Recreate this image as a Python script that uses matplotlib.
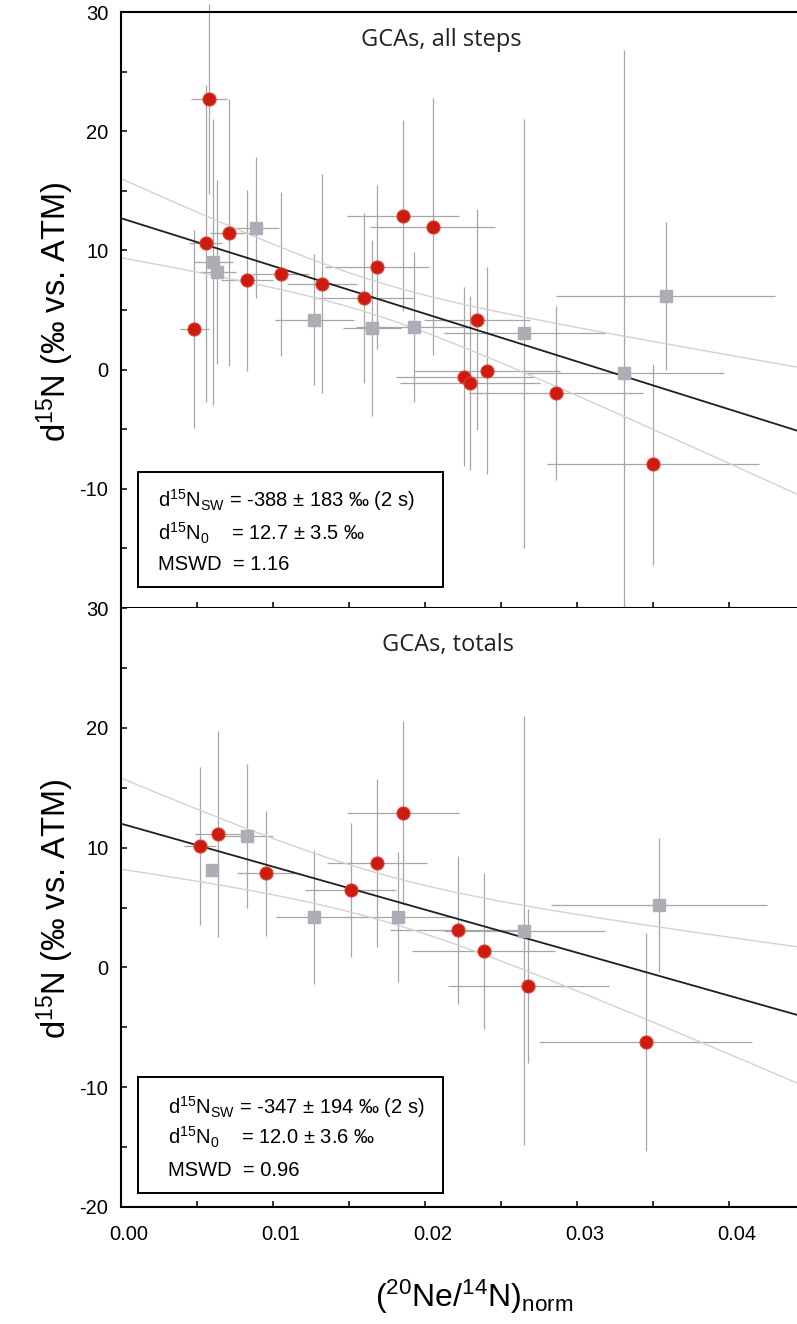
import numpy as np
import matplotlib
matplotlib.use("Agg")
import matplotlib.pyplot as plt
import matplotlib.transforms as mtransforms
from matplotlib.ticker import MultipleLocator, FuncFormatter
from matplotlib.patches import Rectangle

plt.rcParams["font.family"] = ["Liberation Sans", "DejaVu Sans"]
plt.rcParams["mathtext.fontset"] = "custom"
plt.rcParams["mathtext.rm"] = "Liberation Sans"
plt.rcParams["mathtext.it"] = "Liberation Sans:italic"
plt.rcParams["mathtext.default"] = "regular"
plt.rcParams["axes.unicode_minus"] = False

# ---------------- GCAs, all steps ----------------
steps_red_x = [0.00579, 0.00557, 0.00713, 0.00482, 0.00831, 0.01050, 0.01320, 0.01599,
               0.01684, 0.01855, 0.02050, 0.02342, 0.02259, 0.02298, 0.02410, 0.02862, 0.03500]
steps_red_y = [22.7, 10.6, 11.5, 3.4, 7.5, 8.0, 7.2, 6.0,
               8.6, 12.9, 12.0, 4.2, -0.6, -1.1, -0.1, -1.95, -7.96]
steps_red_xerr = [0.0012, 0.0011, 0.0013, 0.00095, 0.0017, 0.0019, 0.0023, 0.0032,
                  0.0034, 0.0037, 0.0041, 0.0035, 0.0045, 0.0046, 0.0048, 0.0057, 0.0070]
steps_red_yerr = [8.0, 13.3, 11.2, 8.3, 7.6, 6.9, 9.2, 7.1,
                  6.9, 8.0, 10.8, 9.3, 7.5, 7.3, 8.7, 7.3, 8.4]

steps_grey_x = [0.00607, 0.00634, 0.00888, 0.0127, 0.01651, 0.01928, 0.02653, 0.03583, 0.0331]
steps_grey_y = [9.05, 8.2, 11.9, 4.2, 3.5, 3.55, 3.05, 6.15, -0.3]
steps_grey_xerr = [0.0013, 0.0012, 0.0015, 0.0026, 0.0019, 0.0038, 0.0053, 0.0072, 0.0066]
steps_grey_yerr_lo = [12.0, 7.7, 5.9, 5.5, 7.4, 6.3, 18.0, 6.2, 20.3]
steps_grey_yerr_hi = [12.0, 7.7, 5.9, 5.5, 7.4, 6.3, 18.0, 6.2, 27.1]

# fit: d15N_SW, d15N_0 (with 2 s errors), MSWD
steps_fit = dict(d_sw=-388, d_sw_err=183, d_0=12.7, d_0_err=3.5, mswd="1.16")
steps_band_center = 0.0164
steps_band_min = 1.41

# ---------------- GCAs, totals ----------------
tot_red_x = [0.0052, 0.0064, 0.00954, 0.01511, 0.01684, 0.01855, 0.02219, 0.02386, 0.0268, 0.03452]
tot_red_y = [10.14, 11.1, 7.86, 6.44, 8.7, 12.9, 3.12, 1.34, -1.56, -6.2]
tot_red_xerr = [0.00105, 0.0015, 0.0019, 0.0030, 0.0033, 0.0037, 0.0045, 0.0047, 0.0053, 0.0070]
tot_red_yerr = [6.6, 8.6, 5.2, 5.6, 7.0, 7.7, 6.2, 6.5, 6.4, 9.1]

tot_grey_x = [0.0060, 0.00827, 0.0127, 0.01822, 0.02653, 0.03542]
tot_grey_y = [8.1, 11.0, 4.2, 4.2, 3.05, 5.2]
tot_grey_xerr = [0.0, 0.0017, 0.0025, 0.0035, 0.0053, 0.0071]
tot_grey_yerr_lo = [0.0, 6.0, 5.6, 5.4, 17.9, 5.6]
tot_grey_yerr_hi = [0.0, 6.0, 5.6, 5.4, 17.9, 5.6]

tot_fit = dict(d_sw=-347, d_sw_err=194, d_0=12.0, d_0_err=3.6, mswd="0.96")
tot_band_center = 0.0169
tot_band_min = 1.93

XMIN, XMAX = 0.0, 0.04447
YMIN, YMAX = -20, 30

RED = "#cc1b10"
RED_EDGE = "#e0402f"
GREY = "#adadb5"
BAR = "#a6a6a6"
BAND = "#d2d2d2"

W, H = 797, 1324
fig = plt.figure(figsize=(W / 100, H / 100), dpi=100)


def rect(l, t, r, b):
    return [l / W, 1 - b / H, (r - l) / W, (b - t) / H]


ax_top = fig.add_axes(rect(121, 12, 797, 608))
ax_bot = fig.add_axes(rect(121, 608, 797, 1207))


def errbars(ax, x, y, xe, ye):
    eb = ax.errorbar(x, y, xerr=xe, yerr=ye, fmt="none", ecolor=BAR,
                     elinewidth=0.9, capsize=0, zorder=1)
    for col in eb.lines[2]:
        col.set_clip_on(False)


def draw_panel(ax, rx, ry, rxe, rye, gx, gy, gxe, gye, fit, bc, bmin,
               title, title_pos, box, text_x, text_ys, hide_bottom_label):
    xs = np.linspace(XMIN, XMAX, 300)
    line = fit["d_0"] + (fit["d_sw"] - fit["d_0"]) * xs
    half = np.sqrt(bmin ** 2 + (fit["d_sw_err"] * (xs - bc)) ** 2)
    ax.plot(xs, line + half, color=BAND, lw=1.0, zorder=2)
    ax.plot(xs, line - half, color=BAND, lw=1.0, zorder=2)

    errbars(ax, gx, gy, gxe, gye)
    errbars(ax, rx, ry, rxe, rye)

    ax.plot(xs, line, color="#1e1e1e", lw=1.3, zorder=3)

    ax.plot(gx, gy, "s", ms=8, color=GREY, mec=GREY, zorder=4)
    ax.plot(rx, ry, "o", ms=9.4, color=RED, mec=RED_EDGE, mew=0.8, zorder=5)

    ax.set_xlim(XMIN, XMAX)
    ax.set_ylim(YMIN, YMAX)
    ax.xaxis.set_major_locator(MultipleLocator(0.01))
    ax.xaxis.set_minor_locator(MultipleLocator(0.005))
    ax.yaxis.set_major_locator(MultipleLocator(10))
    ax.yaxis.set_minor_locator(MultipleLocator(5))
    ax.tick_params(which="both", direction="in", length=4, width=1.1,
                   top=False, right=False, labelsize=14.5)
    ax.tick_params(axis="y", pad=9)
    ax.tick_params(axis="x", pad=13)
    ax.spines["right"].set_visible(False)
    for s in ("left", "top", "bottom"):
        ax.spines[s].set_linewidth(1.5)

    if hide_bottom_label:
        ax.yaxis.set_major_formatter(
            FuncFormatter(lambda v, p: "" if v <= YMIN else f"{v:.0f}"))

    ax.text(title_pos[0], title_pos[1], title, transform=ax.transAxes,
            ha="center", va="center", fontsize=17, family="Open Sans",
            color="#222222")

    x0, y0, w, h = box
    ax.add_patch(Rectangle((x0, y0), w, h, transform=ax.transAxes,
                           fill=False, lw=1.4, ec="black", zorder=6))
    lines = [
        r"d$^{15}$N$_{SW}$ = %d ± %d ‰ (2 s)" % (fit["d_sw"], fit["d_sw_err"]),
        r"d$^{15}$N$_{0}$    = %.1f ± %.1f ‰" % (fit["d_0"], fit["d_0_err"]),
        "MSWD  = " + fit["mswd"],
    ]
    for t, yy in zip(lines, text_ys):
        ax.text(text_x, yy, t, transform=ax.transAxes, ha="left", va="center",
                fontsize=14.5, zorder=7)


def fy(py, top, bottom):
    return (bottom - py) / (bottom - top)


draw_panel(ax_top, steps_red_x, steps_red_y, steps_red_xerr, steps_red_yerr,
           steps_grey_x, steps_grey_y, steps_grey_xerr,
           [steps_grey_yerr_lo, steps_grey_yerr_hi],
           steps_fit, steps_band_center, steps_band_min,
           "GCAs, all steps", (0.474, fy(40, 12, 608)),
           ((138 - 121) / 676, fy(587, 12, 608), 305 / 676, 115 / 596),
           (158 - 121) / 676,
           [fy(500, 12, 608), fy(533, 12, 608), fy(565, 12, 608)],
           True)
ax_top.tick_params(axis="x", labelbottom=False)

draw_panel(ax_bot, tot_red_x, tot_red_y, tot_red_xerr, tot_red_yerr,
           tot_grey_x, tot_grey_y, tot_grey_xerr,
           [tot_grey_yerr_lo, tot_grey_yerr_hi],
           tot_fit, tot_band_center, tot_band_min,
           "GCAs, totals", (0.483, fy(645, 608, 1207)),
           ((138 - 121) / 676, fy(1193, 608, 1207), 305 / 676, 116 / 599),
           (168 - 121) / 676,
           [fy(1107, 608, 1207), fy(1137, 608, 1207), fy(1170, 608, 1207)],
           False)
ax_bot.spines["top"].set_visible(False)
ax_bot.xaxis.set_major_formatter(FuncFormatter(lambda v, p: f"{v:.2f}"))
# x tick labels sit slightly to the right of their ticks
shift = mtransforms.ScaledTranslation(8 / 100, 0, fig.dpi_scale_trans)
for lab in ax_bot.get_xticklabels():
    lab.set_transform(lab.get_transform() + shift)

ylab = r"d$^{15}$N (‰ vs. ATM)"
fig.text(55 / W, 1 - 312 / H, ylab, rotation=90, ha="center", va="center", fontsize=23.5)
fig.text(55 / W, 1 - 909 / H, ylab, rotation=90, ha="center", va="center", fontsize=23.5)
fig.text(474 / W, 1 - 1297 / H, r"($^{20}$Ne/$^{14}$N)$_{norm}$",
         ha="center", va="center", fontsize=23)

fig.savefig("out.png", dpi=100)
